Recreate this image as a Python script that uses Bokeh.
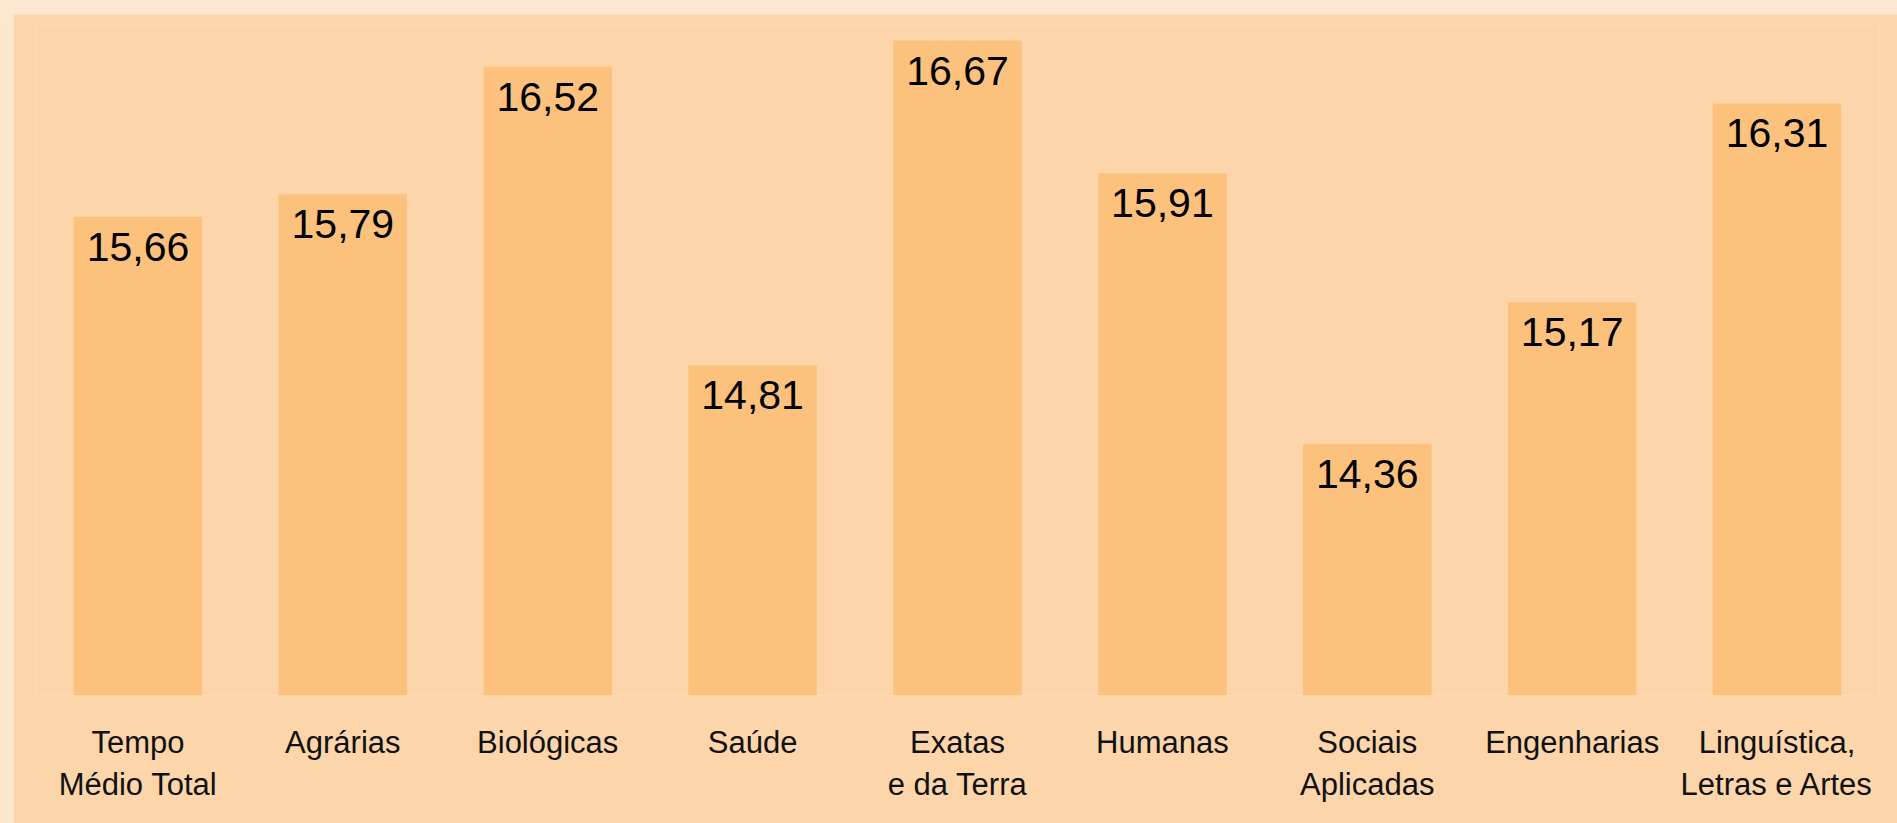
from bokeh.plotting import figure
from bokeh.models import ColumnDataSource, FactorRange, Range1d
from bokeh.layouts import column
from bokeh.core.properties import value
from bokeh.embed import file_html
from bokeh.resources import INLINE

categories = ["Tempo\nMédio Total", "Agrárias", "Biológicas", "Saúde", "Exatas\ne da Terra",
              "Humanas", "Sociais\nAplicadas", "Engenharias", "Linguística,\nLetras e Artes"]
values = [15.66, 15.79, 16.52, 14.81, 16.67, 15.91, 14.36, 15.17, 16.31]
value_labels = ["15,66", "15,79", "16,52", "14,81", "16,67", "15,91", "14,36", "15,17", "16,31"]

OUTER = "#FDE7D0"
PANEL = "#FCD6AA"
BAR = "#FBC17D"

src = ColumnDataSource(dict(cat=categories, val=values, lab=value_labels))

p = figure(x_range=FactorRange(*categories), y_range=Range1d(12.917, 16.762),
           width=1884, height=809, output_backend="svg", toolbar_location=None,
           min_border_left=22, min_border_right=18, min_border_top=10, min_border_bottom=128,
           y_axis_location=None, background_fill_color=PANEL, border_fill_color=PANEL,
           outline_line_color=None, margin=(14, 0, 0, 13))

p.vbar(x="cat", top="val", bottom=12.917, width=0.627, source=src, fill_color=BAR, line_color=None)
p.text(x="cat", y="val", text="lab", source=src, text_align="center", text_baseline="top",
       y_offset=16, text_font=value("Liberation Sans"), text_font_size="41px", text_color="#000000")

p.grid.grid_line_color = None
ax = p.xaxis[0]
ax.axis_line_color = None
ax.major_tick_line_color = None
ax.minor_tick_line_color = None
ax.major_label_standoff = 23
ax.major_label_text_font = "Liberation Sans"
ax.major_label_text_font_size = "31px"
ax.major_label_text_color = "#111111"
ax.major_label_text_line_height = 1.2

layout = column(p, styles={"background-color": OUTER})

open("out.html", "w").write(file_html(layout, INLINE))
